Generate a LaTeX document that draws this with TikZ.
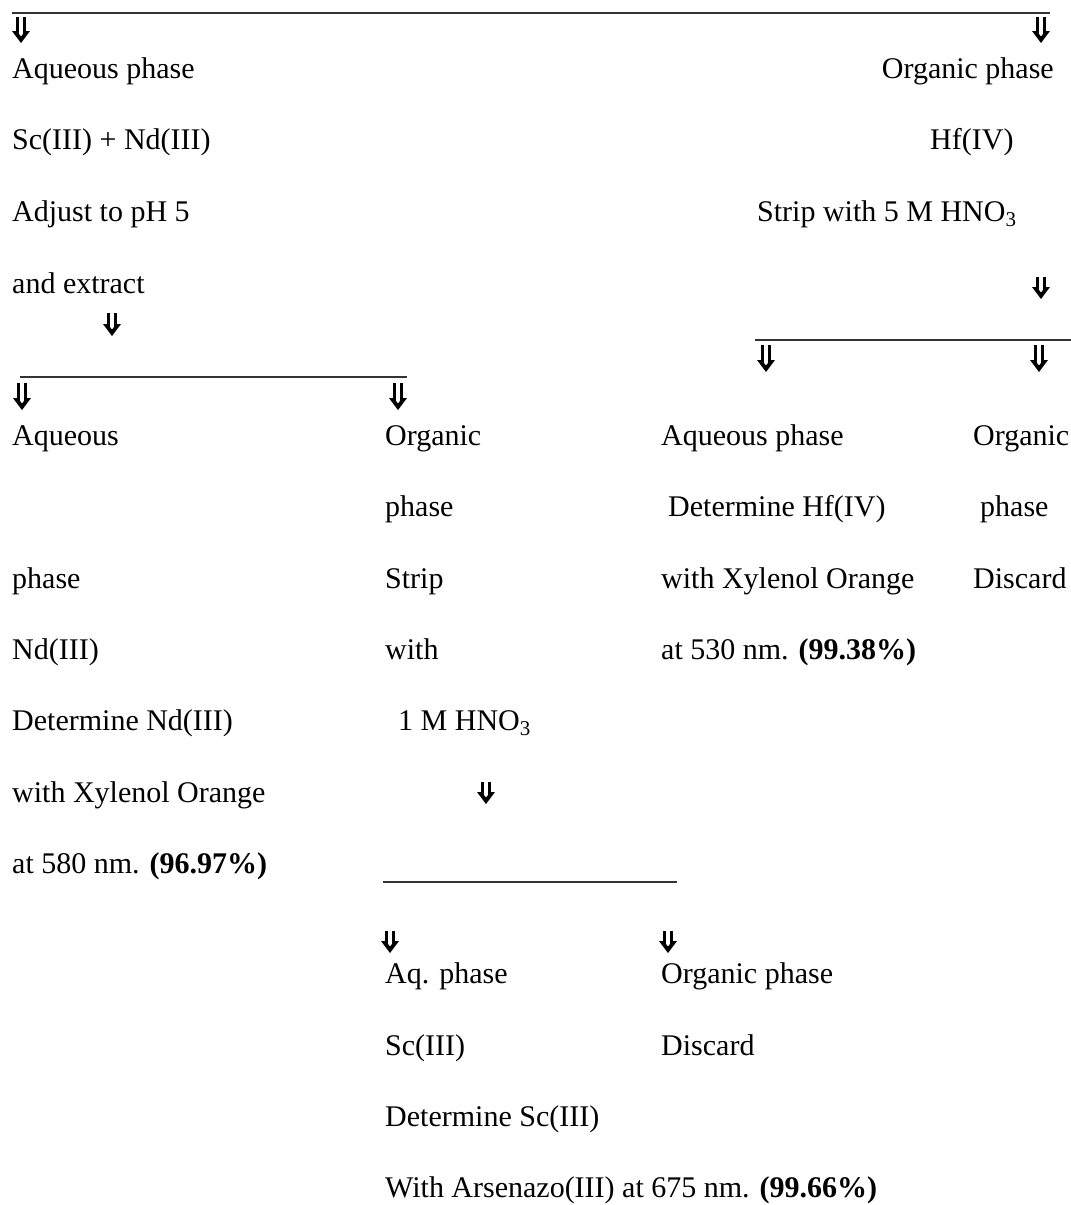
\documentclass[tikz,border=0pt]{standalone}
\usepackage{fontspec}
\setmainfont{Liberation Serif}
\begin{document}
\begin{tikzpicture}[x=1pt,y=-1pt,
  txt/.style={font=\fontsize{30}{34}\selectfont, inner sep=0pt, anchor=base west},
  txtr/.style={txt, anchor=base east},
  rule/.style={line width=2pt, draw=black!80},
  pics/darr/.style={code={
    \draw[line width=3.4pt, line cap=butt] (5.5,0) -- (5.5,#1-7) (12.5,0) -- (12.5,#1-7);
    \fill (0,#1-12) -- (4.5,#1-12) -- (9,#1-6.5) -- (13.5,#1-12) -- (18,#1-12) -- (9,#1) -- cycle;
  }}]
\useasboundingbox (0,0) rectangle (1071,1205);
% horizontal rules
\coordinate (r1a) at (12,13);   \coordinate (r1b) at (1050,13);
\coordinate (r2a) at (755,340); \coordinate (r2b) at (1071,340);
\coordinate (r3a) at (20,377);  \coordinate (r3b) at (407,377);
\coordinate (r4a) at (383,882); \coordinate (r4b) at (677,882);
\draw[rule] (r1a) -- (r1b);
\draw[rule] (r2a) -- (r2b);
\draw[rule] (r3a) -- (r3b);
\draw[rule] (r4a) -- (r4b);
% arrows
\coordinate (a1) at (12,17);   \pic at (a1) {darr=26};
\coordinate (a2) at (1032,17); \pic at (a2) {darr=26};
\coordinate (a3) at (1032,277);\pic at (a3) {darr=22};
\coordinate (a4) at (103,313); \pic at (a4) {darr=23};
\coordinate (a5) at (757,345); \pic at (a5) {darr=27};
\coordinate (a6) at (1030,345);\pic at (a6) {darr=27};
\coordinate (a7) at (13,383);  \pic at (a7) {darr=27};
\coordinate (a8) at (389,383); \pic at (a8) {darr=27};
\coordinate (a9) at (477,782); \pic at (a9) {darr=22};
\coordinate (a10) at (381,931);\pic at (a10) {darr=22};
\coordinate (a11) at (659,931);\pic at (a11) {darr=22};
% top left column
\node[txt] (t1) at (12,78) {Aqueous phase};
\node[txt] (t2) at (12,149) {Sc(III) + Nd(III)};
\node[txt] (t3) at (12,221) {Adjust to pH 5};
\node[txt] (t4) at (12,293) {and extract};
% top right column
\node[txtr] (u1) at (1054,78) {Organic phase};
\node[txt] (u2) at (930,149) {Hf(IV)};
\node[txt] (u3) at (757,221) {Strip with 5 M HNO\textsubscript{3}};
% lower left column
\node[txt] (l1) at (12,445) {Aqueous};
\node[txt] (l2) at (12,588) {phase};
\node[txt] (l3) at (12,659) {Nd(III)};
\node[txt] (l4) at (12,730) {Determine Nd(III)};
\node[txt] (l5) at (12,802) {with Xylenol Orange};
\node[txt] (l6) at (12,873) {at 580 nm. \textbf{(96.97\%)}};
% middle column
\node[txt] (m1) at (385,445) {Organic};
\node[txt] (m2) at (385,516) {phase};
\node[txt] (m3) at (385,588) {Strip};
\node[txt] (m4) at (385,659) {with};
\node[txt] (m5) at (398,730) {1 M HNO\textsubscript{3}};
% lower right columns
\node[txt] (h1) at (661,445) {Aqueous phase};
\node[txt] (h2) at (668,516) {Determine Hf(IV)};
\node[txt] (h3) at (661,588) {with Xylenol Orange};
\node[txt] (h4) at (661,659) {at 530 nm. \textbf{(99.38\%)}};
\node[txt] (o1) at (973,445) {Organic};
\node[txt] (o2) at (980,516) {phase};
\node[txt] (o3) at (973,588) {Discard};
% bottom
\node[txt] (b1) at (385,983) {Aq. phase};
\node[txt] (b2) at (385,1055) {Sc(III)};
\node[txt] (b3) at (385,1126) {Determine Sc(III)};
\node[txt] (b4) at (385,1197) {With Arsenazo(III) at 675 nm. \textbf{(99.66\%)}};
\node[txt] (c1) at (661,983) {Organic phase};
\node[txt] (c2) at (661,1055) {Discard};
\end{tikzpicture}
\end{document}
